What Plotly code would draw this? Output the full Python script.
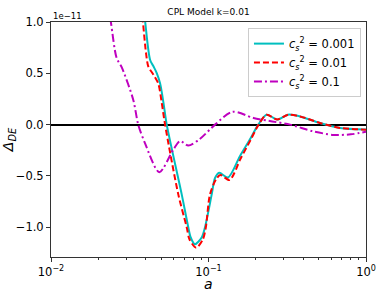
import plotly.graph_objects as go

# Data (values in units of 1e-11)
a_c001 = [0.037, 0.0395, 0.0426, 0.0448, 0.047, 0.0493, 0.0518, 0.0543, 0.0676, 0.0744,
          0.0771, 0.082, 0.0905, 0.095, 0.1048, 0.110, 0.117, 0.133, 0.158, 0.183,
          0.207, 0.234, 0.273, 0.32, 0.381, 0.51, 0.684, 1.0]
d_c001 = [1.4, 1.02, 0.63, 0.566, 0.50, 0.40, 0.21, 0.0, -0.68, -1.0,
          -1.10, -1.165, -1.10, -1.0, -0.68, -0.52, -0.47, -0.515, -0.31, -0.146,
          0.0, 0.097, 0.05, 0.097, 0.08, 0.016, -0.032, -0.047]

a_c01 = [0.0355, 0.0382, 0.0401, 0.0415, 0.0448, 0.048, 0.0505, 0.053, 0.0643, 0.0727,
         0.0758, 0.0835, 0.092, 0.0962, 0.1022, 0.112, 0.119, 0.136, 0.160, 0.185,
         0.208, 0.234, 0.273, 0.32, 0.381, 0.51, 0.684, 1.0]
d_c01 = [1.4, 1.02, 0.70, 0.566, 0.485, 0.40, 0.21, 0.0, -0.68, -1.0,
         -1.12, -1.20, -1.12, -1.0, -0.68, -0.53, -0.49, -0.54, -0.33, -0.15,
         0.0, 0.097, 0.05, 0.097, 0.08, 0.016, -0.032, -0.049]

a_c1 = [0.0215, 0.024, 0.0261, 0.0281, 0.0333, 0.0358, 0.0395, 0.0487, 0.0598, 0.066,
        0.0744, 0.088, 0.110, 0.142, 0.193, 0.245, 0.33, 0.46, 0.62, 0.8, 1.0]
d_c1 = [1.5, 1.0, 0.65, 0.56, 0.24, 0.0, -0.18, -0.463, -0.243, -0.16,
        -0.204, -0.14, 0.0, 0.125, 0.065, 0.035, 0.0, -0.065, -0.10, -0.095, -0.07]

labels = ["<i>c</i><sub><i>s</i></sub><sup>2</sup> = 0.001",
          "<i>c</i><sub><i>s</i></sub><sup>2</sup> = 0.01",
          "<i>c</i><sub><i>s</i></sub><sup>2</sup> = 0.1"]

y_ticks = [-1.0, -0.5, 0.0, 0.5, 1.0]
y_ticktext = ["\u22121.0", "\u22120.5", "0.0", "0.5", "1.0"]
x_ticks = [0.01, 0.1, 1.0]
x_ticktext = ["10<sup>\u22122</sup>", "10<sup>\u22121</sup>", "10<sup>0</sup>"]

font = "DejaVu Sans"

fig = go.Figure()
fig.add_trace(go.Scatter(x=a_c001, y=d_c001, mode="lines", name=labels[0],
                         line=dict(color="#00bfbf", width=2, shape="spline", smoothing=0.8)))
fig.add_trace(go.Scatter(x=a_c01, y=d_c01, mode="lines", name=labels[1],
                         line=dict(color="#ff0000", width=2, dash="6px,3px", shape="spline", smoothing=0.8)))
fig.add_trace(go.Scatter(x=a_c1, y=d_c1, mode="lines", name=labels[2],
                         line=dict(color="#bf00bf", width=2, dash="8px,3px,2px,3px", shape="spline", smoothing=0.8)))

fig.update_layout(
    width=379, height=291,
    margin=dict(l=51, r=13, t=22, b=34, autoexpand=False),
    paper_bgcolor="white", plot_bgcolor="white",
    font=dict(family=font, size=11.5, color="black"),
    showlegend=True,
    legend=dict(x=0.984, y=0.974, xanchor="right", yanchor="top",
                bgcolor="rgba(255,255,255,0.9)", bordercolor="#cccccc", borderwidth=1,
                font=dict(size=11.5), itemwidth=30, tracegroupgap=0),
    title=dict(text="CPL Model k=0.01", x=0.5, xref="paper", xanchor="center",
               y=1 - 12/291, yanchor="middle", font=dict(size=9), automargin=False),
    annotations=[
        dict(text="1e\u221211", xref="paper", yref="paper", x=0, y=1,
             xanchor="left", yanchor="bottom", showarrow=False,
             font=dict(size=8.5), yshift=-1),
        dict(text="<i>a</i>", xref="paper", yref="paper", x=0.5, y=0,
             xanchor="center", yanchor="middle", showarrow=False,
             font=dict(size=14), yshift=-27),
    ],
)
fig.update_xaxes(type="log", range=[-2, 0], tickvals=x_ticks, ticktext=x_ticktext,
                 automargin=False,
                 showgrid=False, showline=True, linecolor="#333", linewidth=1, mirror=True,
                 ticks="outside", ticklen=4, tickcolor="#333",
                 minor=dict(ticks="outside", ticklen=2, tickcolor="#333", dtick="D1", showgrid=False))
fig.update_yaxes(range=[-1.29, 1.0], tickvals=y_ticks, ticktext=y_ticktext,
                 automargin=False,
                 showgrid=False, showline=True, linecolor="#333", linewidth=1, mirror=True,
                 ticks="outside", ticklen=4, tickcolor="#333",
                 zeroline=True, zerolinecolor="black", zerolinewidth=2,
                 title=dict(text="<i>\u0394</i><sub><i>DE</i></sub>", font=dict(size=14), standoff=2))

fig.write_html("out.html", config={"displayModeBar": False},
               post_script="document.body.style.margin='0';document.body.style.padding='0';")
